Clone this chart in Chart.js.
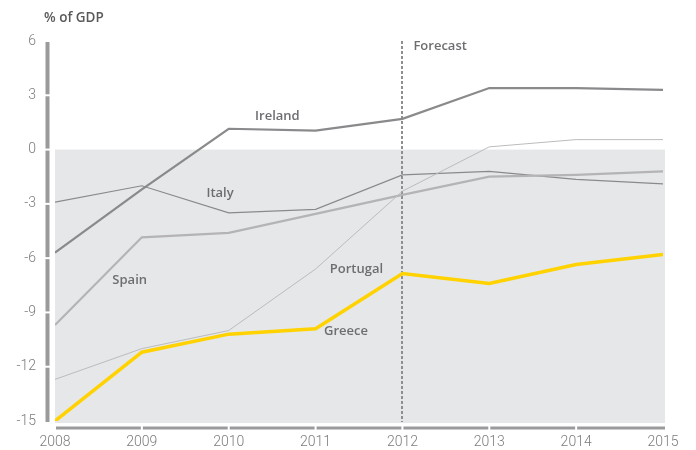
<!DOCTYPE html>
<html>
<head>
<meta charset="utf-8">
<script src="https://cdn.jsdelivr.net/npm/chart.js@4.4.1/dist/chart.umd.min.js"></script>
<style>
  html, body { margin: 0; padding: 0; background: #fff; }
  #wrap { width: 696px; height: 450px; }
</style>
</head>
<body>
<div id="wrap"><canvas id="deficit-chart" width="696" height="450"></canvas></div>
<script>
// Données (solde budgétaire, % du PIB)
const years = [2008, 2009, 2010, 2011, 2012, 2013, 2014, 2015];
const yTicks = [-15, -12, -9, -6, -3, 0, 3, 6];
const forecastYear = 2012;

const greece   = [-15.0, -11.2, -10.2, -9.9, -6.85, -7.4, -6.35, -5.8];
const portugal = [-12.7, -11.0, -10.0, -6.6, -2.3, 0.15, 0.55, 0.55];
const spain    = [-9.7, -4.85, -4.6, -3.55, -2.5, -1.5, -1.4, -1.2];
const italy    = [-2.9, -2.0, -3.5, -3.3, -1.4, -1.2, -1.65, -1.9];
const ireland  = [-5.7, -2.2, 1.15, 1.05, 1.7, 3.4, 3.4, 3.3];

const toPoints = vals => vals.map((v, i) => ({ x: years[i], y: v }));

// Étiquettes des séries (placées en coordonnées de données)
const seriesLabels = [
    { text: 'Ireland',  x: 2010.56, y: 1.83 },
    { text: 'Italy',    x: 2009.9,  y: -2.43 },
    { text: 'Spain',    x: 2008.86, y: -7.2 },
    { text: 'Portugal', x: 2011.47, y: -6.6 },
    { text: 'Greece',   x: 2011.35, y: -10.07 }
];

const axisGrey = '#9a9a9d';
const labelFont = '600 13px "Open Sans", Roboto, sans-serif';

// Fond gris sous zéro + ligne pointillée "Forecast"
const backdrop = {
    id: 'backdrop',
    beforeDatasetsDraw(chart) {
        const { ctx, scales: { x, y } } = chart;
        const y0 = y.getPixelForValue(0);
        const yMin = y.getPixelForValue(-15);
        ctx.save();
        ctx.fillStyle = '#e6e7e8';
        ctx.fillRect(x.left, y0, x.right - x.left + 2, yMin - y0 + 2);

        const fx = Math.round(x.getPixelForValue(forecastYear));
        ctx.strokeStyle = '#8e8e90';
        ctx.lineWidth = 2;
        ctx.setLineDash([3, 2]);
        ctx.beginPath();
        ctx.moveTo(fx, y.getPixelForValue(6));
        ctx.lineTo(fx, yMin + 1);
        ctx.stroke();
        ctx.restore();
    },
    afterDraw(chart) {
        const { ctx, scales: { x, y } } = chart;
        ctx.save();

        // axe Y : barre épaisse coupée à chaque graduation
        const ax = x.left - 7.5;
        ctx.strokeStyle = axisGrey;
        ctx.lineWidth = 4;
        for (let i = 0; i < yTicks.length - 1; i++) {
            const ya = y.getPixelForValue(yTicks[i]) + (i === 0 ? 1 : -1);
            const yb = y.getPixelForValue(yTicks[i + 1]) + 1;
            ctx.beginPath();
            ctx.moveTo(ax, ya);
            ctx.lineTo(ax, yb);
            ctx.stroke();
        }

        // axe X : barre coupée à chaque année
        const ay = y.getPixelForValue(-15) + 7;
        ctx.lineWidth = 3;
        for (let i = 0; i < years.length - 1; i++) {
            const xa = x.getPixelForValue(years[i]) + 1;
            const xb = x.getPixelForValue(years[i + 1]) - 1 + (i === years.length - 2 ? 3 : 0);
            ctx.beginPath();
            ctx.moveTo(xa, ay);
            ctx.lineTo(xb, ay);
            ctx.stroke();
        }

        // textes
        ctx.fillStyle = '#6d6e71';
        ctx.font = labelFont;
        ctx.textAlign = 'center';
        ctx.textBaseline = 'middle';
        seriesLabels.forEach(l => {
            ctx.fillText(l.text, x.getPixelForValue(l.x), y.getPixelForValue(l.y));
        });
        ctx.textAlign = 'left';
        ctx.fillText('Forecast', x.getPixelForValue(forecastYear) + 11, y.getPixelForValue(6) + 5);

        ctx.fillStyle = '#58595b';
        ctx.font = '600 13.5px "Open Sans", Roboto, sans-serif';
        ctx.fillText('% of GDP', 44, 18);
        ctx.restore();
    }
};

const chart = new Chart(document.getElementById('deficit-chart'), {
    type: 'line',
    data: {
        datasets: [
            { label: 'Greece',   data: toPoints(greece),   borderColor: '#ffd200', borderWidth: 3.5 },
            { label: 'Portugal', data: toPoints(portugal), borderColor: '#bcbcbe', borderWidth: 1 },
            { label: 'Spain',    data: toPoints(spain),    borderColor: '#b4b4b6', borderWidth: 2.2 },
            { label: 'Italy',    data: toPoints(italy),    borderColor: '#8a8a8d', borderWidth: 1.2 },
            { label: 'Ireland',  data: toPoints(ireland),  borderColor: '#8a8a8d', borderWidth: 2.2 }
        ]
    },
    options: {
        responsive: false,
        animation: false,
        layout: { padding: { top: 41, right: 33, left: 0, bottom: 0 } },
        elements: {
            point: { radius: 0 },
            line: { tension: 0, borderJoinStyle: 'miter' }
        },
        plugins: {
            legend: { display: false },
            tooltip: { enabled: false }
        },
        scales: {
            x: {
                type: 'linear',
                min: 2008,
                max: 2015,
                afterFit(scale) { scale.height = 29; },
                grid: { display: false, drawTicks: false },
                border: { display: false },
                ticks: {
                    stepSize: 1,
                    padding: 13,
                    color: '#7b7c7f',
                    font: { family: 'Roboto', size: 14, weight: '300' },
                    callback: v => String(v)
                }
            },
            y: {
                min: -15,
                max: 6,
                afterFit(scale) { scale.width = 55; },
                afterBuildTicks(scale) { scale.ticks = yTicks.map(v => ({ value: v })); },
                grid: { display: false, drawTicks: false },
                border: { display: false },
                ticks: {
                    padding: 19,
                    color: '#7b7c7f',
                    font: { family: 'Roboto', size: 14, weight: '300' }
                }
            }
        }
    },
    plugins: [backdrop]
});
</script>
</body>
</html>
